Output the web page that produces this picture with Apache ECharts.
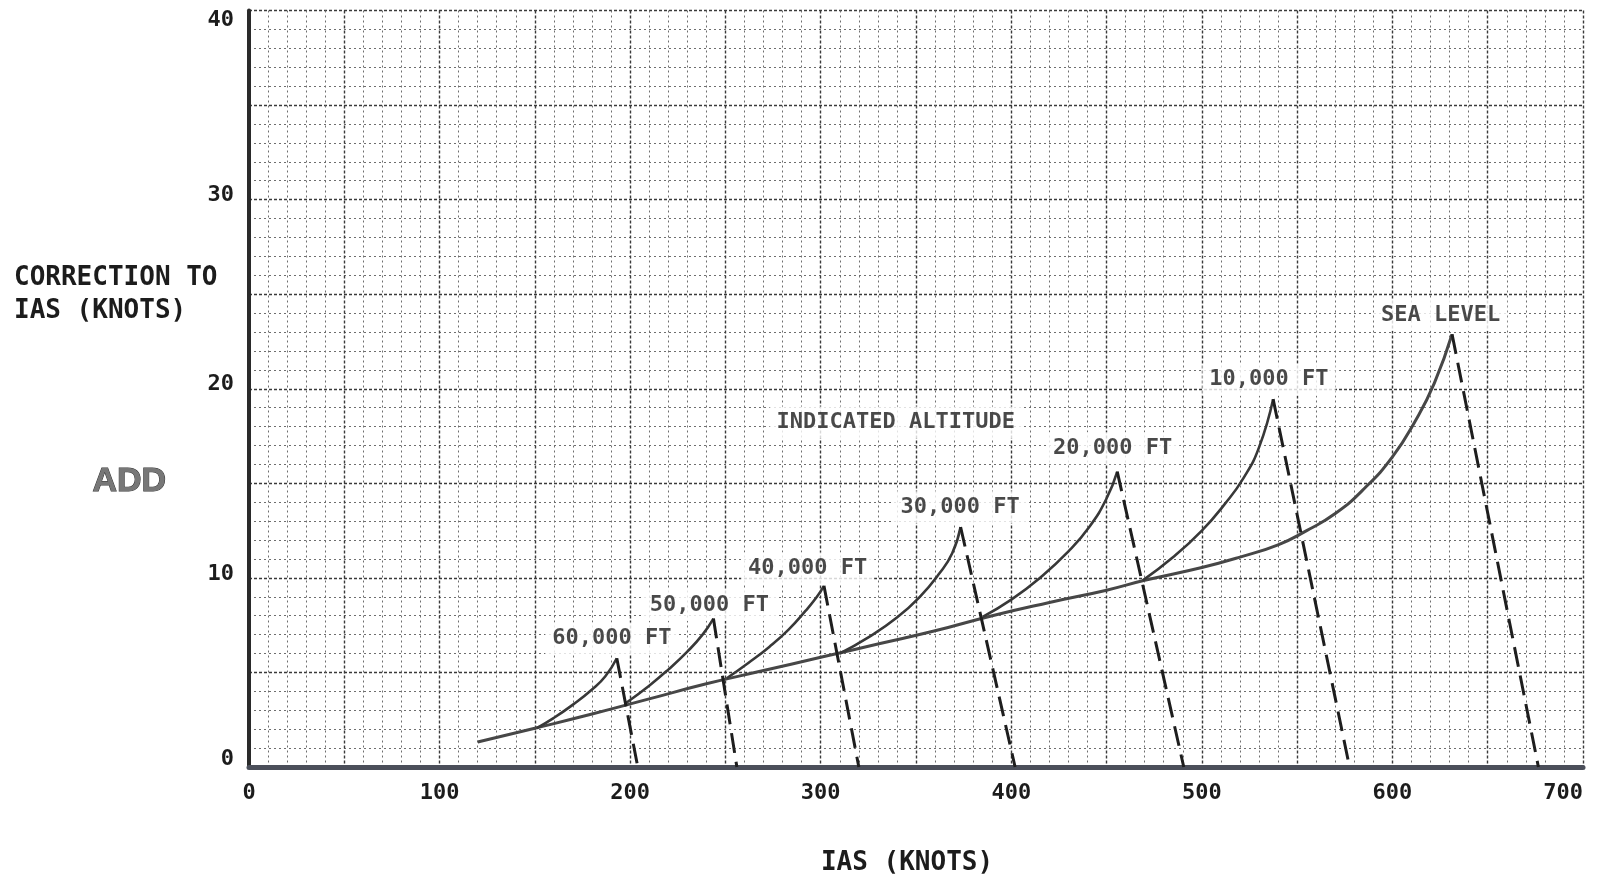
<!DOCTYPE html>
<html>
<head>
<meta charset="utf-8">
<script src="https://cdn.jsdelivr.net/npm/echarts/dist/echarts.min.js"></script>
<style>
html,body{margin:0;padding:0;background:#ffffff;}
#chart{width:1612px;height:881px;}
</style>
</head>
<body>
<div id="chart"></div>
<script>
// ---- Tick labels ----
const xTickLabels = [0, 100, 200, 300, 400, 500, 600, 700];
const yTickLabels = [0, 10, 20, 30, 40];

// ---- Correction curves [IAS knots, correction knots] ----
const seaLevel = [[120,1.32],[150,2.05],[180,2.8],[210,3.6],[240,4.4],[270,5.1],[300,5.8],[330,6.5],[360,7.2],[390,8.0],[420,8.7],[450,9.35],[470,9.87],[500,10.55],[520,11.1],[540,11.75],[555,12.5],[570,13.4],[585,14.7],[600,16.4],[612,18.3],[622,20.3],[631.3,22.88]];
const ft10000 = [[469,9.87],[485,11.1],[500,12.5],[512,13.9],[522,15.3],[530,16.9],[537.4,19.45]];
const ft20000 = [[385,7.94],[400,8.85],[415,10.0],[430,11.4],[441,12.7],[450,14.2],[455.6,15.62]];
const ft30000 = [[310,6.0],[325,6.85],[340,7.9],[352,9.0],[362,10.2],[369,11.3],[373.4,12.69]];
const ft40000 = [[250.7,4.69],[262,5.5],[273,6.35],[283,7.25],[292,8.25],[298,9.0],[301.7,9.58]];
const ft50000 = [[198,3.4],[210,4.3],[220,5.15],[230,6.1],[238,7.0],[243.7,7.85]];
const ft60000 = [[151,2.06],[160,2.6],[170,3.3],[180,4.1],[187,4.8],[193,5.75]];

// ---- Dashed limit lines (peak -> axis) ----
const limitSeaLevel = [[631.3,22.88],[676.6,0]];
const limit10000 = [[537.4,19.45],[577.5,0]];
const limit20000 = [[455.6,15.62],[490.5,0]];
const limit30000 = [[373.4,12.69],[402,0]];
const limit40000 = [[301.7,9.58],[320,0]];
const limit50000 = [[243.7,7.85],[256,0]];
const limit60000 = [[193,5.75],[204,0]];

// ---- Curve annotations ----
const labelNames = ['60,000 FT','50,000 FT','40,000 FT','30,000 FT','INDICATED ALTITUDE','20,000 FT','10,000 FT','SEA LEVEL'];
const labelX = [190.4, 241.6, 293.1, 373.1, 339.4, 453.2, 535.2, 625.3];
const labelY = [6.8, 8.57, 10.49, 13.73, 18.22, 16.86, 20.48, 23.9];

const MONO = '"DejaVu Sans Mono", "Liberation Mono", monospace';
const TXT = '#1c1c1c';
const solidCurves = [seaLevel, ft10000, ft20000, ft30000, ft40000, ft50000, ft60000];
const dashedLines = [limitSeaLevel, limit10000, limit20000, limit30000, limit40000, limit50000, limit60000];

const series = [];
solidCurves.forEach((d, i) => {
  series.push({
    type: 'line', data: d, showSymbol: false, silent: true, z: 4,
    smooth: 0.5,
    lineStyle: { color: i === 0 ? '#474747' : '#383838', width: i === 0 ? 3 : 2.6 }
  });
});
dashedLines.forEach(d => {
  series.push({
    type: 'line', data: d, showSymbol: false, silent: true, z: 4,
    lineStyle: { color: '#1e1e1e', width: 3, type: [20, 9] }
  });
});
series.push({
  type: 'scatter', silent: true, z: 3, symbolSize: 1,
  itemStyle: { color: 'rgba(0,0,0,0)' },
  data: labelNames.map((n, i) => ({ name: n, value: [labelX[i], labelY[i]] })),
  label: {
    show: true, position: 'inside', formatter: '{b}',
    fontFamily: MONO, fontSize: 22, fontWeight: 'bold', color: TXT,
    backgroundColor: '#ffffff', padding: [5, 7]
  }
});

const chart = echarts.init(document.getElementById('chart'), null, { renderer: 'canvas' });
chart.setOption({
  animation: false,
  backgroundColor: '#ffffff',
  grid: { left: 249, right: 29, top: 10.5, bottom: 112, containLabel: false },
  xAxis: {
    type: 'value', min: 0, max: 700, interval: 50,
    name: 'IAS (KNOTS)', nameLocation: 'middle', nameGap: 83,
    nameTextStyle: { fontFamily: MONO, fontSize: 26, fontWeight: 'bold', color: TXT, padding: [0, 18, 0, 0] },
    axisLine: { show: true, onZero: false, lineStyle: { color: '#4b4f5a', width: 5 } },
    axisTick: { show: false },
    axisLabel: {
      margin: 15, fontFamily: MONO, fontSize: 22, fontWeight: 'bold', color: TXT,
      alignMaxLabel: 'right',
      formatter: v => xTickLabels.includes(v) ? String(v) : ''
    },
    splitLine: { show: true, lineStyle: { color: '#3a3a3a', width: 1.4, type: [3, 2] } },
    minorTick: { show: false, splitNumber: 5 },
    minorSplitLine: { show: true, lineStyle: { color: '#6e6e6e', width: 1, type: [2, 3] } }
  },
  yAxis: {
    type: 'value', min: 0, max: 40, interval: 5,
    axisLine: { show: true, onZero: false, lineStyle: { color: '#2a2a2a', width: 4 } },
    axisTick: { show: false },
    axisLabel: {
      margin: 15, fontFamily: MONO, fontSize: 22, fontWeight: 'bold', color: TXT,
      formatter: v => {
        if (!yTickLabels.includes(v)) return '';
        if (v === 40) return '{top|' + v + '}';
        if (v === 0) return '{bot|' + v + '}';
        return '{mid|' + v + '}';
      },
      rich: {
        top: { padding: [20, 0, 0, 0], fontFamily: MONO, fontSize: 22, fontWeight: 'bold', color: TXT },
        bot: { padding: [0, 0, 16, 0], fontFamily: MONO, fontSize: 22, fontWeight: 'bold', color: TXT },
        mid: { padding: [0, 0, 8, 0], fontFamily: MONO, fontSize: 22, fontWeight: 'bold', color: TXT }
      }
    },
    splitLine: { show: true, lineStyle: { color: '#3a3a3a', width: 1.4, type: [3, 2] } },
    minorTick: { show: false, splitNumber: 5 },
    minorSplitLine: { show: true, lineStyle: { color: '#6e6e6e', width: 1, type: [2, 3] } }
  },
  graphic: [
    { type: 'text', left: 14, top: 262,
      style: { text: 'CORRECTION TO\nIAS (KNOTS)', font: 'bold 26px ' + MONO, fill: TXT, lineHeight: 33 } },
    { type: 'text', left: 92, top: 464,
      style: { text: 'ADD', font: 'bold 34px "Liberation Sans", Arial, sans-serif', fill: '#777777', stroke: '#333333', lineWidth: 1 } }
  ],
  series: series
});
</script>
</body>
</html>
